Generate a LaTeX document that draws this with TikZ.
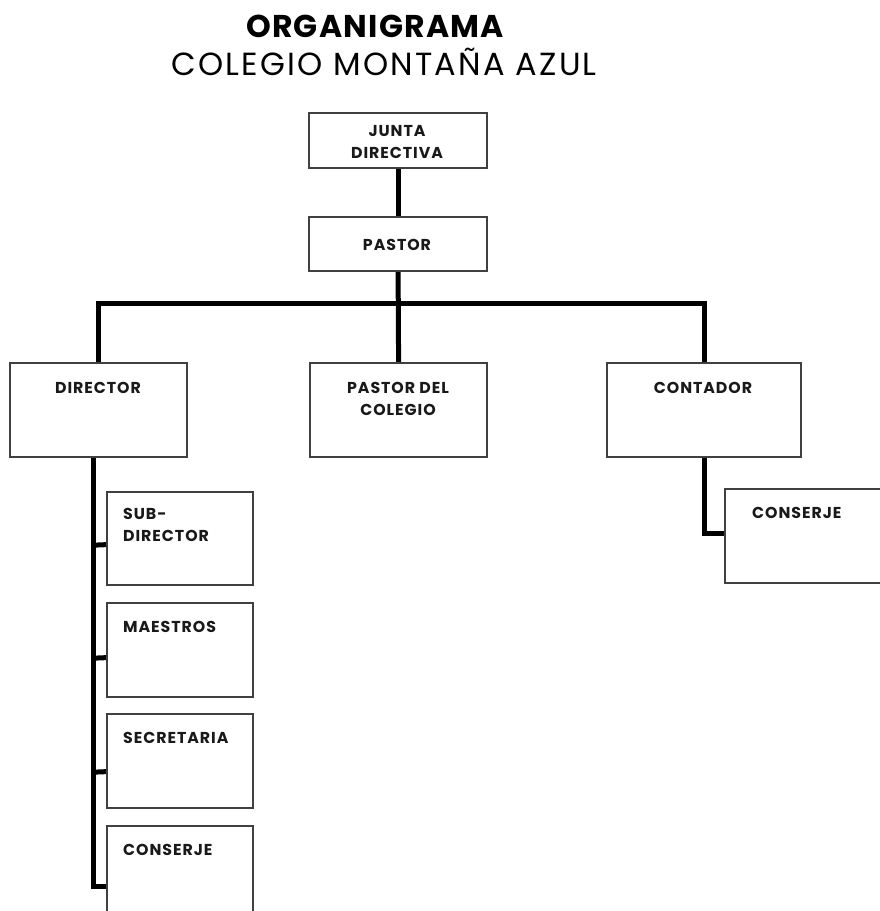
\documentclass[tikz,border=0pt]{standalone}
\usepackage{fontspec}
\setmainfont{Poppins}
\usetikzlibrary{calc}
\tikzset{
  box/.style={draw=black!75, line width=1.2pt, fill=white, rectangle, inner sep=0pt, anchor=north west},
  conn/.style={line width=5pt, black, line join=miter},
  lbl/.style={inner sep=0pt, font=\fontsize{15.8}{22}\selectfont\bfseries\addfontfeatures{LetterSpace=6}, align=center, text=black!90},
  lbll/.style={lbl, align=left}
}
\begin{document}
\begin{tikzpicture}[x=1pt,y=-1pt]
\clip (0,0) rectangle (880,911);
\fill[white] (0,0) rectangle (880,911);
% titles
\node[inner sep=0pt, anchor=base, font=\fontsize{31.5}{36}\selectfont\bfseries\addfontfeatures{LetterSpace=4}] (t1) at (375,37) {ORGANIGRAMA};
\node[inner sep=0pt, anchor=base, font=\fontsize{32}{36}\selectfont\addfontfeatures{LetterSpace=7}] (t2) at (384,75) {COLEGIO MONTAÑA AZUL};
\coordinate (bar) at (400,303);
% boxes
\node[box, minimum width=177, minimum height=54] (jd) at (309,113) {};
\node[box, minimum width=177, minimum height=53] (pa) at (309,217) {};
\node[box, minimum width=176, minimum height=93] (dir) at (10,363) {};
\node[box, minimum width=176, minimum height=93] (pdc) at (310,363) {};
\node[box, minimum width=193, minimum height=93] (cont) at (607,363) {};
\node[box, minimum width=175, minimum height=93] (cs2) at (725,489) {};
\node[box, minimum width=145, minimum height=92] (sub) at (107,492) {};
\node[box, minimum width=145, minimum height=93] (mae) at (107,603) {};
\node[box, minimum width=145, minimum height=93] (sec) at (107,714) {};
\node[box, minimum width=145, minimum height=93] (cs1) at (107,826) {};
\coordinate (sp) at ($(dir.south west)+(83,0)$);
\coordinate (spb) at ($(sp)+(0,429)$);
% connectors
\draw[conn] (jd.south) -- (pa.north);
\draw[conn] (pa.south) -- (pdc.north);
\draw[conn] (dir.north) |- (bar) -| (cont.north);
\draw[conn] (cont.south) |- ($(cs2.west)+(0,-3)$);
\draw[conn] (sp) -- (spb) -- (spb -| cs1.west);
\draw[conn] ($(sp)+(0,88)$) -- ($(sub.west)+(0,6)$);
\draw[conn] ($(sp)+(0,201)$) -- ($(mae.west)+(0,7.5)$);
\draw[conn] ($(sp)+(0,315)$) -- ($(sec.west)+(0,10.5)$);
% box borders on top
\foreach \b in {jd,pa,dir,pdc,cont,cs2,sub,mae,sec,cs1}{
  \draw[draw=black!75, line width=1.2pt] (\b.north west) rectangle (\b.south east);
}
% labels
\node[lbl, anchor=north] (l1) at (397,125) {JUNTA\\DIRECTIVA};
\node[lbl, anchor=base] (l2) at (397,250) {PASTOR};
\node[lbl, anchor=base] (l3) at (98,393) {DIRECTOR};
\node[lbl, anchor=north] (l4) at (398,382) {PASTOR DEL\\COLEGIO};
\node[lbl, anchor=base] (l5) at (703,393) {CONTADOR};
\node[lbll, anchor=base west] (l6) at (752,518) {CONSERJE};
\node[lbll, anchor=north west] (l7) at (123,508) {SUB-\\DIRECTOR};
\node[lbll, anchor=base west] (l8) at (123,632) {MAESTROS};
\node[lbll, anchor=base west] (l9) at (123,743) {SECRETARIA};
\node[lbll, anchor=base west] (l10) at (123,855) {CONSERJE};
\end{tikzpicture}
\end{document}
